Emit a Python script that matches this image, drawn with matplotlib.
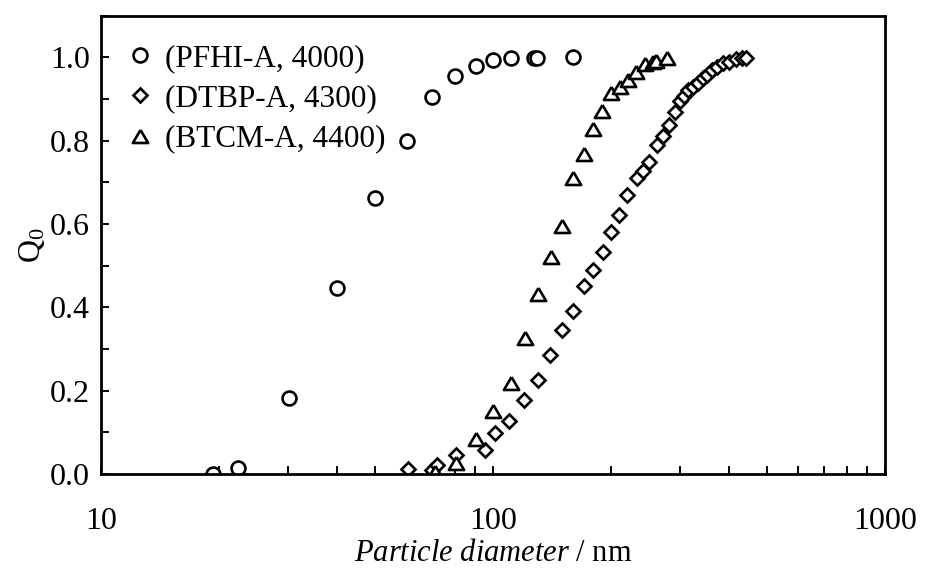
import matplotlib
matplotlib.use("Agg")
import matplotlib.pyplot as plt
from matplotlib.ticker import FixedLocator, LogLocator, MultipleLocator, FuncFormatter, NullFormatter

plt.rcParams["font.family"] = ["Liberation Serif", "DejaVu Serif"]
plt.rcParams["mathtext.fontset"] = "custom"
plt.rcParams["mathtext.rm"] = "Liberation Serif"
plt.rcParams["mathtext.it"] = "Liberation Serif:italic"

# Cumulative number distribution Q0 vs particle diameter (nm)
pfhi_d = [19.3, 22.4, 30.2, 40.0, 50.0, 60.3, 69.8, 80.1, 90.5, 100.2, 110.9, 127.5, 129.7, 159.7]
pfhi_q = [0.000, 0.014, 0.182, 0.446, 0.662, 0.800, 0.904, 0.956, 0.979, 0.994, 0.998, 0.998, 0.999, 1.000]

dtbp_d = [60.6, 70.0, 71.8, 80.3, 95.4, 101.2, 110.1, 119.9, 130.3, 139.8, 150.0, 159.7,
          170.4, 180.2, 190.5, 200.0, 210.0, 219.3, 232.6, 241.8, 250.4, 261.6, 271.0,
          281.7, 291.2, 299.9, 306.9, 314.9, 323.1, 334.0, 342.8, 350.8, 361.4, 372.2,
          386.9, 400.8, 416.9, 430.9, 441.9]
dtbp_q = [0.011, 0.010, 0.022, 0.046, 0.058, 0.098, 0.128, 0.178, 0.226, 0.286, 0.346, 0.392,
          0.451, 0.490, 0.534, 0.580, 0.621, 0.670, 0.710, 0.728, 0.750, 0.790, 0.811,
          0.838, 0.870, 0.896, 0.907, 0.922, 0.928, 0.939, 0.950, 0.958, 0.970, 0.978,
          0.986, 0.990, 0.995, 0.998, 0.998]

btcm_d = [71.1, 80.5, 90.4, 100.2, 111.1, 120.7, 130.3, 140.8, 150.3, 159.7, 170.6, 180.2,
          190.1, 199.6, 210.8, 221.5, 231.7, 244.3, 256.4, 260.6, 277.5]
btcm_q = [0.006, 0.026, 0.083, 0.152, 0.219, 0.326, 0.431, 0.520, 0.595, 0.710, 0.768, 0.828,
          0.872, 0.914, 0.928, 0.946, 0.966, 0.983, 0.990, 0.992, 0.998]

labels = ["(PFHI-A, 4000)", "(DTBP-A, 4300)", "(BTCM-A, 4400)"]
x_ticks = [10, 100, 1000]
y_ticks = [0.0, 0.2, 0.4, 0.6, 0.8, 1.0]

fig = plt.figure(figsize=(9.25, 5.72), dpi=100)
ax = fig.add_axes([0.1092, 0.1713, 0.8476, 0.8013])

tri = [(0, 0.85), (-1, -0.85), (1, -0.85), (0, 0.85)]
common = dict(linestyle="none", markerfacecolor="white", markeredgecolor="black",
              markeredgewidth=1.9)
ax.plot(pfhi_d, pfhi_q, marker="o", markersize=10.0, label=labels[0], **common)
ax.plot(dtbp_d, dtbp_q, marker="D", markersize=7.4, label=labels[1], **common)
ax.plot(btcm_d, btcm_q, marker=tri, markersize=11.0, label=labels[2], **common)

ax.set_xscale("log")
ax.set_xlim(10, 1000)
ax.set_ylim(0, 1.1)
ax.xaxis.set_major_locator(FixedLocator(x_ticks))
ax.xaxis.set_minor_locator(LogLocator(base=10, subs=range(2, 10)))
ax.xaxis.set_major_formatter(FuncFormatter(lambda v, p: f"{v:g}"))
ax.xaxis.set_minor_formatter(NullFormatter())
ax.yaxis.set_major_locator(FixedLocator(y_ticks))
ax.yaxis.set_minor_locator(MultipleLocator(0.1))
ax.yaxis.set_major_formatter(FuncFormatter(lambda v, p: f"{v:.1f}"))

for s in ax.spines.values():
    s.set_linewidth(2.0)
ax.tick_params(which="both", direction="in", top=False, right=False,
               length=6, width=1.4, labelsize=23)
ax.tick_params(axis="x", which="major", pad=24)
ax.tick_params(axis="y", which="major", pad=8)

ax.set_xlabel(r"$\mathit{Particle\ diameter}$ / nm", fontsize=22, labelpad=2)
ax.set_ylabel(r"Q$_0$", fontsize=23, labelpad=2)

ax.legend(loc="upper left", bbox_to_anchor=(0.032, 0.938), frameon=False,
          fontsize=22.5, handlelength=0.9, handletextpad=0.35, labelspacing=0.36,
          borderaxespad=0, borderpad=0)

fig.savefig("out.png", dpi=100)
